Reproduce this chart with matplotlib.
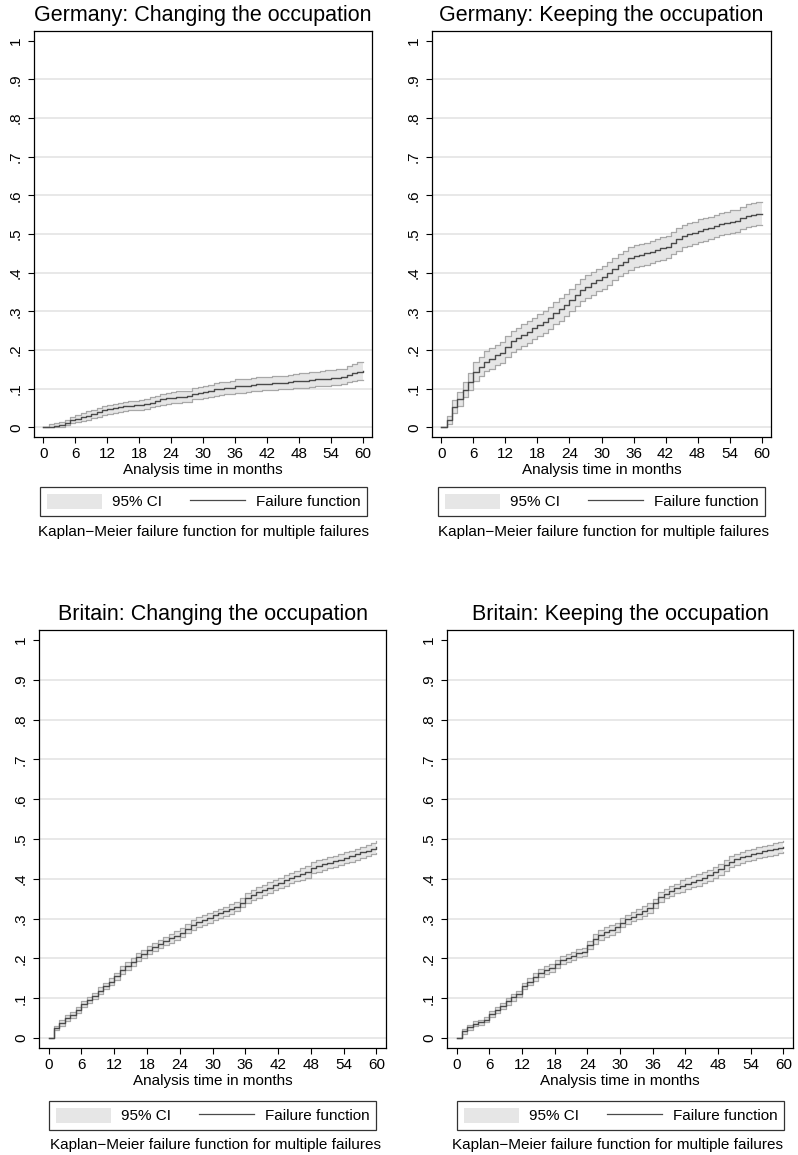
import numpy as np
import matplotlib
matplotlib.use("Agg")
import matplotlib.pyplot as plt
from matplotlib.patches import Patch
from matplotlib.lines import Line2D

plt.rcParams['font.family'] = ['Liberation Sans', 'DejaVu Sans']

# --- data (one value per month 0..60) ---
x_ticks = list(range(0, 61, 6))
y_ticks = [0, .1, .2, .3, .4, .5, .6, .7, .8, .9, 1]
y_tick_labels = ['0', '.1', '.2', '.3', '.4', '.5', '.6', '.7', '.8', '.9', '1']

titles = ['Germany: Changing the occupation', 'Germany: Keeping the occupation',
          'Britain: Changing the occupation', 'Britain: Keeping the occupation']
x_label = 'Analysis time in months'
legend_labels = ['95% CI', 'Failure function']
caption = 'Kaplan\u2212Meier failure function for multiple failures'

de_change_f = [0, 0.002, 0.004, 0.006, 0.010, 0.018, 0.022, 0.026, 0.030, 0.035, 0.040,
               0.044, 0.047, 0.050, 0.052, 0.054, 0.056, 0.057, 0.057, 0.060, 0.064,
               0.068, 0.072, 0.075, 0.077, 0.078, 0.079, 0.080, 0.087, 0.089, 0.091,
               0.094, 0.098, 0.100, 0.101, 0.102, 0.106, 0.107, 0.108, 0.110, 0.112,
               0.113, 0.113, 0.114, 0.115, 0.115, 0.117, 0.119, 0.120, 0.121, 0.122,
               0.124, 0.125, 0.126, 0.127, 0.128, 0.130, 0.135, 0.141, 0.143, 0.145]
de_change_hi = [0, 0.008, 0.010, 0.013, 0.018, 0.028, 0.032, 0.036, 0.041, 0.046, 0.051,
                0.055, 0.058, 0.061, 0.064, 0.066, 0.068, 0.069, 0.070, 0.074, 0.078,
                0.082, 0.087, 0.090, 0.092, 0.093, 0.094, 0.095, 0.103, 0.105, 0.107,
                0.110, 0.114, 0.117, 0.118, 0.119, 0.124, 0.125, 0.126, 0.128, 0.130,
                0.131, 0.131, 0.132, 0.133, 0.133, 0.136, 0.138, 0.140, 0.141, 0.142,
                0.144, 0.146, 0.147, 0.148, 0.150, 0.152, 0.158, 0.165, 0.168, 0.170]
de_change_lo = [0, 0, 0.001, 0.002, 0.005, 0.010, 0.013, 0.016, 0.020, 0.024, 0.028,
                0.032, 0.035, 0.038, 0.040, 0.042, 0.044, 0.045, 0.045, 0.048, 0.052,
                0.055, 0.058, 0.061, 0.063, 0.064, 0.065, 0.066, 0.072, 0.074, 0.076,
                0.079, 0.082, 0.084, 0.085, 0.086, 0.089, 0.090, 0.091, 0.093, 0.095,
                0.096, 0.096, 0.097, 0.098, 0.098, 0.100, 0.101, 0.102, 0.103, 0.104,
                0.106, 0.107, 0.108, 0.109, 0.110, 0.112, 0.116, 0.120, 0.122, 0.123]

de_keep_f = [0, 0.018, 0.052, 0.072, 0.096, 0.117, 0.144, 0.157, 0.170, 0.178, 0.187,
             0.193, 0.209, 0.222, 0.230, 0.239, 0.247, 0.256, 0.265, 0.273, 0.282,
             0.295, 0.305, 0.316, 0.329, 0.342, 0.355, 0.364, 0.372, 0.381, 0.388,
             0.398, 0.409, 0.420, 0.428, 0.437, 0.443, 0.446, 0.450, 0.454, 0.459,
             0.463, 0.466, 0.476, 0.486, 0.495, 0.499, 0.503, 0.509, 0.512, 0.516,
             0.521, 0.526, 0.529, 0.532, 0.534, 0.541, 0.547, 0.549, 0.552, 0.553]
de_keep_hi = [0, 0.030, 0.070, 0.091, 0.118, 0.140, 0.168, 0.183, 0.197, 0.205, 0.214,
              0.220, 0.237, 0.250, 0.258, 0.267, 0.275, 0.284, 0.293, 0.301, 0.310,
              0.324, 0.334, 0.345, 0.358, 0.371, 0.384, 0.393, 0.401, 0.410, 0.417,
              0.427, 0.438, 0.449, 0.457, 0.466, 0.471, 0.474, 0.478, 0.482, 0.487,
              0.491, 0.494, 0.505, 0.515, 0.524, 0.528, 0.532, 0.538, 0.541, 0.545,
              0.550, 0.555, 0.558, 0.561, 0.563, 0.571, 0.577, 0.579, 0.582, 0.584]
de_keep_lo = [0, 0.008, 0.037, 0.056, 0.078, 0.097, 0.121, 0.133, 0.145, 0.152, 0.160,
              0.166, 0.181, 0.194, 0.202, 0.211, 0.219, 0.228, 0.237, 0.245, 0.254,
              0.266, 0.276, 0.287, 0.300, 0.313, 0.326, 0.335, 0.343, 0.352, 0.359,
              0.369, 0.380, 0.391, 0.399, 0.408, 0.414, 0.417, 0.421, 0.425, 0.430,
              0.434, 0.437, 0.447, 0.457, 0.466, 0.470, 0.474, 0.480, 0.483, 0.487,
              0.492, 0.497, 0.500, 0.503, 0.505, 0.512, 0.518, 0.520, 0.523, 0.524]

gb_change_f = [0, 0.025, 0.038, 0.050, 0.058, 0.071, 0.086, 0.096, 0.106, 0.119, 0.130,
               0.142, 0.155, 0.170, 0.181, 0.192, 0.203, 0.211, 0.220, 0.228, 0.236,
               0.244, 0.251, 0.257, 0.265, 0.275, 0.284, 0.291, 0.297, 0.302, 0.308,
               0.313, 0.318, 0.324, 0.330, 0.340, 0.352, 0.360, 0.366, 0.372, 0.378,
               0.384, 0.390, 0.396, 0.402, 0.407, 0.412, 0.417, 0.428, 0.432, 0.436,
               0.440, 0.444, 0.448, 0.453, 0.457, 0.462, 0.467, 0.471, 0.476, 0.481]
gb_change_hi = [0, 0.031, 0.045, 0.057, 0.065, 0.078, 0.094, 0.104, 0.114, 0.127, 0.138,
                0.150, 0.164, 0.180, 0.191, 0.202, 0.213, 0.221, 0.230, 0.238, 0.246,
                0.255, 0.262, 0.268, 0.276, 0.287, 0.296, 0.303, 0.309, 0.314, 0.320,
                0.325, 0.330, 0.336, 0.342, 0.352, 0.365, 0.373, 0.379, 0.385, 0.391,
                0.397, 0.403, 0.409, 0.415, 0.420, 0.426, 0.431, 0.442, 0.446, 0.450,
                0.454, 0.458, 0.462, 0.467, 0.471, 0.476, 0.481, 0.485, 0.490, 0.496]
gb_change_lo = [0, 0.019, 0.031, 0.043, 0.051, 0.064, 0.078, 0.088, 0.098, 0.111, 0.122,
                0.134, 0.146, 0.160, 0.171, 0.182, 0.193, 0.201, 0.210, 0.218, 0.226,
                0.233, 0.240, 0.246, 0.254, 0.263, 0.272, 0.279, 0.285, 0.290, 0.296,
                0.301, 0.306, 0.312, 0.318, 0.328, 0.339, 0.347, 0.353, 0.359, 0.365,
                0.371, 0.377, 0.383, 0.389, 0.394, 0.398, 0.403, 0.414, 0.418, 0.422,
                0.426, 0.430, 0.434, 0.439, 0.443, 0.448, 0.453, 0.457, 0.462, 0.466]

gb_keep_f = [0, 0.017, 0.027, 0.036, 0.040, 0.046, 0.061, 0.071, 0.081, 0.092, 0.102,
             0.111, 0.130, 0.142, 0.153, 0.163, 0.170, 0.175, 0.186, 0.195, 0.200,
             0.206, 0.213, 0.217, 0.234, 0.249, 0.259, 0.266, 0.272, 0.278, 0.290,
             0.298, 0.305, 0.312, 0.319, 0.326, 0.338, 0.355, 0.363, 0.370, 0.376,
             0.382, 0.388, 0.393, 0.397, 0.403, 0.409, 0.416, 0.424, 0.434, 0.443,
             0.449, 0.454, 0.458, 0.462, 0.466, 0.469, 0.472, 0.475, 0.478, 0.481]
gb_keep_hi = [0, 0.023, 0.033, 0.042, 0.046, 0.052, 0.069, 0.079, 0.089, 0.100, 0.110,
              0.119, 0.138, 0.152, 0.163, 0.173, 0.180, 0.185, 0.196, 0.205, 0.210,
              0.216, 0.223, 0.227, 0.244, 0.261, 0.271, 0.278, 0.284, 0.290, 0.302,
              0.310, 0.317, 0.324, 0.331, 0.338, 0.350, 0.367, 0.375, 0.382, 0.388,
              0.396, 0.402, 0.407, 0.411, 0.417, 0.423, 0.430, 0.438, 0.448, 0.457,
              0.463, 0.468, 0.472, 0.476, 0.480, 0.483, 0.486, 0.489, 0.492, 0.496]
gb_keep_lo = [0, 0.011, 0.021, 0.030, 0.034, 0.040, 0.053, 0.063, 0.073, 0.084, 0.094,
              0.103, 0.122, 0.132, 0.143, 0.153, 0.160, 0.165, 0.176, 0.185, 0.190,
              0.196, 0.203, 0.207, 0.224, 0.237, 0.247, 0.254, 0.260, 0.266, 0.278,
              0.286, 0.293, 0.300, 0.307, 0.314, 0.326, 0.343, 0.351, 0.358, 0.364,
              0.368, 0.374, 0.379, 0.383, 0.389, 0.395, 0.402, 0.410, 0.420, 0.429,
              0.435, 0.440, 0.444, 0.448, 0.452, 0.455, 0.458, 0.461, 0.464, 0.467]

series = [(de_change_f, de_change_lo, de_change_hi),
          (de_keep_f, de_keep_lo, de_keep_hi),
          (gb_change_f, gb_change_lo, gb_change_hi),
          (gb_keep_f, gb_keep_lo, gb_keep_hi)]

# --- layout in pixels: axes (left, right, top, bottom), legend centre x / top, caption x / y ---
W, H = 798, 1155
axes_px = [(34, 372, 31, 437), (432, 771, 31, 437), (39, 386, 630, 1048), (447, 793, 630, 1048)]
legend_px = [(203.5, 487), (601.5, 487), (212.5, 1101), (620.5, 1101)]
caption_px = [(204, 532), (604, 532), (215, 1145), (617, 1145)]

BAND = '#e6e6e6'
BAND_EDGE = '#a8a8a8'
LINE = '#4a4a4a'
GRID = '#e2e2e2'

fig = plt.figure(figsize=(W / 100, H / 100), dpi=100)

for i, (f, lo, hi) in enumerate(series):
    l, r, t, b = axes_px[i]
    ax = fig.add_axes([l / W, 1 - b / H, (r - l) / W, (b - t) / H])

    for y in y_ticks[:-1]:
        ax.axhline(y, color=GRID, lw=1.1, zorder=0)

    ax.fill_between(np.arange(len(lo)), lo, hi, step='post', color=BAND, lw=0, zorder=1)
    ax.step(np.arange(len(hi)), hi, where='post', color=BAND_EDGE, lw=0.9, zorder=2)
    ax.step(np.arange(len(lo)), lo, where='post', color=BAND_EDGE, lw=0.9, zorder=2)
    ax.step(np.arange(len(f)), f, where='post', color=LINE, lw=1.0, zorder=3)

    ax.set_xlim(-1.75, 61.75)
    ax.set_ylim(-0.025, 1.025)
    ax.set_xticks(x_ticks)
    ax.set_yticks(y_ticks)
    ax.set_yticklabels(y_tick_labels, rotation=90, va='center')
    ax.tick_params(axis='both', labelsize=11, length=4, width=0.8, color='black')
    ax.tick_params(axis='y', pad=4)
    ax.tick_params(axis='x', pad=3)
    for s in ax.spines.values():
        s.set_color('black')
        s.set_linewidth(0.9)

    ax.set_title(titles[i], fontsize=15.5, pad=7)
    ax.set_xlabel(x_label, fontsize=11, labelpad=1.5)

    handles = [Patch(facecolor=BAND, edgecolor='none'),
               Line2D([], [], color=LINE, lw=0.9)]
    cx, top = legend_px[i]
    leg = ax.legend(handles, legend_labels, ncol=2, loc='upper center',
                    bbox_to_anchor=(cx / W, 1 - top / H), bbox_transform=fig.transFigure,
                    frameon=True, fancybox=False, edgecolor='black', fontsize=11,
                    handlelength=3.6, handleheight=1.1, handletextpad=0.7,
                    columnspacing=1.8, borderpad=0.45, borderaxespad=0)
    leg.get_frame().set_linewidth(0.9)

    cx, cy = caption_px[i]
    fig.text(cx / W, 1 - cy / H, caption, ha='center', va='center', fontsize=11)

fig.savefig('out.png', dpi=100)
